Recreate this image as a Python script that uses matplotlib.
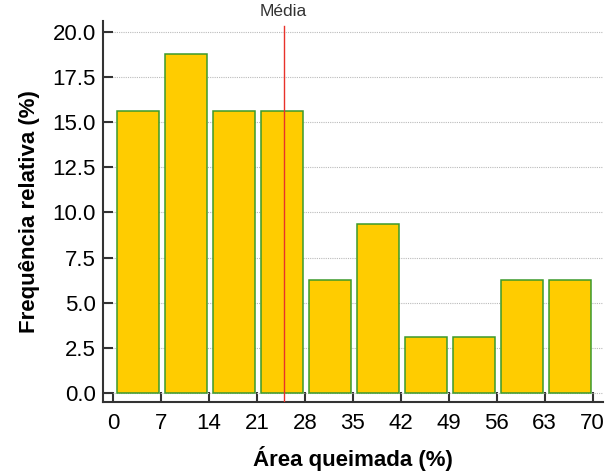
import matplotlib.pyplot as plt
import numpy as np

plt.rcParams['font.family'] = ['Liberation Sans', 'DejaVu Sans']

bin_edges = [0, 7, 14, 21, 28, 35, 42, 49, 56, 63, 70]
freq = [15.625, 18.75, 15.625, 15.625, 6.25, 9.375, 3.125, 3.125, 6.25, 6.25]
media = 24.9
yticks = [0.0, 2.5, 5.0, 7.5, 10.0, 12.5, 15.0, 17.5, 20.0]

fig = plt.figure(figsize=(6.06, 4.75), dpi=100)
ax = fig.add_axes([0.1695, 0.1543, 0.8255, 0.802])

left = np.array(bin_edges[:-1]) + 0.6
ax.bar(left, freq, width=6.1, align='edge', color='#FFCC00',
       edgecolor='#3C9A2C', linewidth=1.1, zorder=2)

ax.axvline(media, ymin=0, ymax=(20.3 + 0.46) / (20.6 + 0.46),
           color='#E8322A', linewidth=1, zorder=3)
ax.text(media, 20.7, 'Média', ha='center', va='bottom', fontsize=12.5,
        color='#333333')

ax.set_xlim(-1.5, 71.5)
ax.set_ylim(-0.46, 20.6)
ax.set_xticks(bin_edges)
ax.set_yticks(yticks)
ax.set_yticklabels([f'{v:.1f}' for v in yticks])
ax.grid(axis='y', linestyle=(0, (1, 1)), color='#BBBBBB', linewidth=0.8, zorder=0)
ax.set_axisbelow(True)

for s in ['top', 'right']:
    ax.spines[s].set_visible(False)
for s in ['left', 'bottom']:
    ax.spines[s].set_color('#333333')
    ax.spines[s].set_linewidth(1.5)
ax.tick_params(direction='in', length=7, width=1.5, color='#333333',
               labelsize=16, pad=8)
ax.tick_params(axis='y', pad=5)

ax.set_xlabel('Área queimada (%)', fontsize=16, fontweight='bold', labelpad=9)
ax.set_ylabel('Frequência relativa (%)', fontsize=16, fontweight='bold', labelpad=9)

fig.savefig('out.png', dpi=100)
